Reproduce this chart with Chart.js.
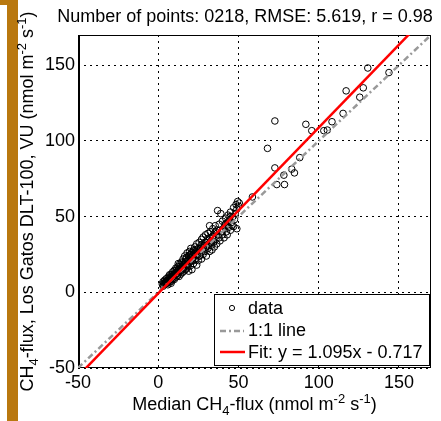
<!DOCTYPE html>
<html>
<head>
<meta charset="utf-8">
<script src="https://cdn.jsdelivr.net/npm/chart.js@4"></script>
<style>
  html, body { margin: 0; padding: 0; background: #fff; }
  #wrap { position: relative; width: 441px; height: 421px; }
  #bar { position: absolute; left: 7px; top: 0; width: 11px; height: 421px; background: #b9780f; }
  #barTop { position: absolute; left: 0; top: 0; width: 8px; height: 5px; background: #b9780f; }
  canvas { position: absolute; left: 0; top: 0; }
</style>
</head>
<body>
<div id="wrap">
  <div id="bar"></div>
  <div id="barTop"></div>
  <canvas id="scatty" width="441" height="421"></canvas>
</div>
<script>
// median flux (x) vs Los Gatos flux (y)
const xValues = [
  2.5, 3, 3.2, 3.5, 4, 4.2, 4.5, 5, 5, 5.3, 5.8, 6, 6.2, 6.5, 7, 7, 7.3, 7.8, 8, 8.2,
  8.5, 9, 9, 9.3, 9.8, 10, 10, 10.3, 10.8, 11, 11, 11.5, 12, 12, 12.2, 12.5, 13, 13, 13.3, 13.8,
  14, 14, 14.5, 14.8, 15, 15, 15.5, 15.8, 16, 16, 16.5, 16.8, 17, 17, 17.5, 17.8, 18, 18, 18.3, 18.8,
  19, 19, 19.5, 19.8, 20, 20, 20.3, 20.8, 21, 21, 21.5, 22, 22, 22.3, 22.8, 23, 23.5, 23.8, 24, 24,
  24.5, 25, 25, 25.5, 25.8, 26, 26.5, 27, 27, 27.5, 28, 28, 28.5, 29, 29, 29.5, 30, 30, 30.5, 31,
  31, 31.5, 32, 32, 32.5, 33, 33, 33.5, 34, 34, 34.5, 35, 35, 35.5, 36, 36.5, 36.5, 37, 37.5, 38,
  38, 38.5, 39, 39.5, 40, 40, 40.5, 41, 41.5, 42, 42.5, 43, 43, 43.5, 44, 44.5, 45, 45, 45.5, 46,
  46.5, 47, 47, 47.5, 48, 48.5, 49, 49, 49.5, 50, 50.5, 32, 25.5, 12.5, 8, 6, 3, 4.8, 6.8, 9.5,
  11.8, 14.2, 16.3, 18.5, 20.5, 23.2, 26.3, 29.8, 33.8, 21.8, 15.3, 10.5,
  4.6, 5.6, 7.6, 8.8, 9.6, 11.3, 12.8, 13.6, 15.2, 16.2, 17.3, 18.6, 19.3, 20.6, 21.3, 22.6,
  24.3, 26.8, 28.3, 30.8, 33.3, 35.8, 38.3, 41.8, 44.8,
  58.7, 68.1, 72.7, 72.7, 73.9, 78.3, 78.7, 83.2, 84.9, 88.2, 92.0, 95.7, 103.2, 105.4, 108.3,
  115.2, 117.1, 125.6, 127.8, 130.6, 143.8
];
const yValues = [
  5.5, 7, 4.8, 6, 8, 5.5, 6.8, 7.5, 9, 5.8, 8, 6.5, 10, 7.5, 9, 11.5, 6.8, 8.5, 12, 10,
  7.5, 11, 13.5, 9, 12, 8.5, 14.5, 11, 13, 10, 16, 12.5, 14, 11, 17, 13, 15.5, 10.5, 18.5, 14,
  12, 16.5, 20, 15, 13, 17.5, 22, 16, 14, 19, 24, 17.5, 15, 20.5, 23, 18, 16, 26, 21, 19,
  14, 23.5, 27, 20, 17.5, 25, 29, 22, 15, 26.5, 24, 19, 28, 21, 30, 25, 22, 27, 18, 32,
  26, 21, 29, 33, 24, 27.5, 30, 22, 35, 28, 25, 36.5, 31, 27, 33, 38, 30, 24, 34, 29,
  39, 32, 27, 36, 40, 31, 34, 28, 37, 42, 33, 30, 39, 44, 35, 32, 41, 54, 38, 36,
  45, 34, 52, 40, 38, 47, 42, 36, 44, 49, 40, 38, 46, 51, 43, 48, 41, 53, 46, 44,
  50, 43.5, 56, 48, 52, 58, 42, 55, 60, 57, 59, 44, 24, 19, 6, 5, 4, 6.2, 7.8, 10.8,
  13.2, 15.8, 18.2, 20.5, 22.8, 25.5, 29, 33, 37, 24.5, 17, 12,
  6.2, 7, 10.2, 11.8, 10.5, 14.8, 15, 17.2, 19.5, 18.5, 22, 17, 24.5, 25, 21.5, 27.5,
  28.5, 31.5, 30, 35.5, 33, 40, 41, 45, 50,
  63.0, 95.1, 113.2, 82.2, 71.2, 77.4, 71.2, 81.4, 78.9, 89.0, 111.0, 106.8, 106.8, 107.2, 112.7,
  118.2, 133.1, 128.9, 135.1, 148.2, 145.2
];
const fitSlope = 1.095;
const fitIntercept = -0.717;
const axisMin = -50;
const axisMax = 170;
const tickValues = [-50, 0, 50, 100, 150];
const titleText = "Number of points: 0218, RMSE: 5.619, r = 0.98";
const legendLabels = ["data", "1:1 line", "Fit: y = 1.095x - 0.717"];

const FONT = "'Liberation Sans', Arial, sans-serif";
const points = xValues.map((x, i) => ({ x: x, y: yValues[i] }));
const oneToOne = [{ x: axisMin, y: axisMin }, { x: axisMax, y: axisMax }];
const fitLine = [axisMin, axisMax].map(x => ({ x: x, y: fitSlope * x + fitIntercept }));

// text with sub/superscripts, parts = [[text, shift]]
function richWidth(ctx, parts) {
  let w = 0;
  parts.forEach(p => {
    ctx.font = (p[1] ? "13px " : "18px ") + FONT;
    w += ctx.measureText(p[0]).width;
  });
  return w;
}
function richDraw(ctx, parts, x, y) {
  parts.forEach(p => {
    ctx.font = (p[1] ? "13px " : "18px ") + FONT;
    ctx.fillText(p[0], x, y + p[1]);
    x += ctx.measureText(p[0]).width;
  });
}

const xLabel = [["Median CH", 0], ["4", 5], ["-flux (nmol m", 0], ["-2", -7], [" s", 0], ["-1", -7], [")", 0]];
const yLabel = [["CH", 0], ["4", 5], ["-flux, Los Gatos DLT-100, VU (nmol m", 0], ["-2", -7], [" s", 0], ["-1", -7], [")", 0]];

const decor = {
  id: "decor",
  beforeDatasetsDraw(chart) {
    const ctx = chart.ctx, a = chart.chartArea;
    ctx.save();
    ctx.strokeStyle = "#000";
    ctx.lineWidth = 1;
    ctx.strokeRect(a.left + 0.5, a.top + 0.5, a.right - a.left - 1, a.bottom - a.top - 1);
    ctx.lineWidth = 2;
    ctx.beginPath();
    ctx.moveTo(a.left + 1, a.top);
    ctx.lineTo(a.left + 1, a.bottom);
    ctx.stroke();
    ctx.restore();
  },
  afterDatasetsDraw(chart) {
    const ctx = chart.ctx, a = chart.chartArea;
    ctx.save();
    // legend box
    const bx = 214, by = 294, bw = 215, bh = 71;
    ctx.fillStyle = "#fff";
    ctx.fillRect(bx, by, bw, bh);
    ctx.strokeStyle = "#000";
    ctx.lineWidth = 1;
    ctx.strokeRect(bx + 0.5, by + 0.5, bw, bh);
    ctx.lineWidth = 1;
    ctx.beginPath();
    ctx.arc(232, 308, 2.6, 0, Math.PI * 2);
    ctx.stroke();
    ctx.strokeStyle = "#999";
    ctx.lineWidth = 2.5;
    ctx.setLineDash([6, 3, 2, 3]);
    ctx.beginPath();
    ctx.moveTo(220, 331);
    ctx.lineTo(244, 331);
    ctx.stroke();
    ctx.setLineDash([]);
    ctx.strokeStyle = "#f00";
    ctx.lineWidth = 2.5;
    ctx.beginPath();
    ctx.moveTo(220, 352);
    ctx.lineTo(245, 352);
    ctx.stroke();
    ctx.fillStyle = "#000";
    ctx.font = "18px " + FONT;
    ctx.textBaseline = "middle";
    ctx.fillText(legendLabels[0], 248, 309);
    ctx.fillText(legendLabels[1], 248, 331);
    ctx.fillText(legendLabels[2], 248, 353);
    // title
    ctx.textBaseline = "alphabetic";
    ctx.textAlign = "center";
    ctx.fillText(titleText, 245, 22);
    // axis labels
    ctx.textAlign = "left";
    const xw = richWidth(ctx, xLabel);
    richDraw(ctx, xLabel, (a.left + a.right) / 2 - xw / 2, 410);
    const yw = richWidth(ctx, yLabel);
    ctx.translate(33, (a.top + a.bottom) / 2);
    ctx.rotate(-Math.PI / 2);
    richDraw(ctx, yLabel, -yw / 2, 0);
    ctx.restore();
  }
};

new Chart(document.getElementById("scatty"), {
  type: "scatter",
  data: {
    datasets: [
      {
        label: legendLabels[2],
        type: "line",
        data: fitLine,
        borderColor: "#f00",
        borderWidth: 2.5,
        pointRadius: 0,
        order: 0
      },
      {
        label: legendLabels[1],
        type: "line",
        data: oneToOne,
        borderColor: "#999",
        borderWidth: 2.5,
        borderDash: [6, 3, 2, 3],
        pointRadius: 0,
        order: 1
      },
      {
        label: legendLabels[0],
        data: points,
        pointRadius: 3.3,
        pointBorderWidth: 1,
        borderColor: "#000",
        backgroundColor: "rgba(0,0,0,0)",
        order: 2
      }
    ]
  },
  options: {
    responsive: false,
    animation: false,
    events: [],
    layout: { padding: { top: 35, right: 10, left: 0, bottom: 0 } },
    plugins: { legend: { display: false }, tooltip: { enabled: false } },
    scales: {
      x: {
        type: "linear",
        min: axisMin,
        max: axisMax,
        afterBuildTicks: s => { s.ticks = tickValues.map(v => ({ value: v })); },
        afterFit: s => { s.height = 53; },
        grid: { color: "#000", lineWidth: 1, drawTicks: false },
        border: { display: true, width: 0, dash: [2, 4] },
        ticks: { color: "#000", font: { family: FONT, size: 18 }, padding: 4 }
      },
      y: {
        type: "linear",
        min: axisMin,
        max: axisMax,
        afterBuildTicks: s => { s.ticks = tickValues.map(v => ({ value: v })); },
        afterFit: s => { s.width = 78; },
        grid: { color: "#000", lineWidth: 1, drawTicks: false },
        border: { display: true, width: 0, dash: [2, 4] },
        ticks: { color: "#000", font: { family: FONT, size: 18 }, padding: 3 }
      }
    }
  },
  plugins: [decor]
});
</script>
</body>
</html>
